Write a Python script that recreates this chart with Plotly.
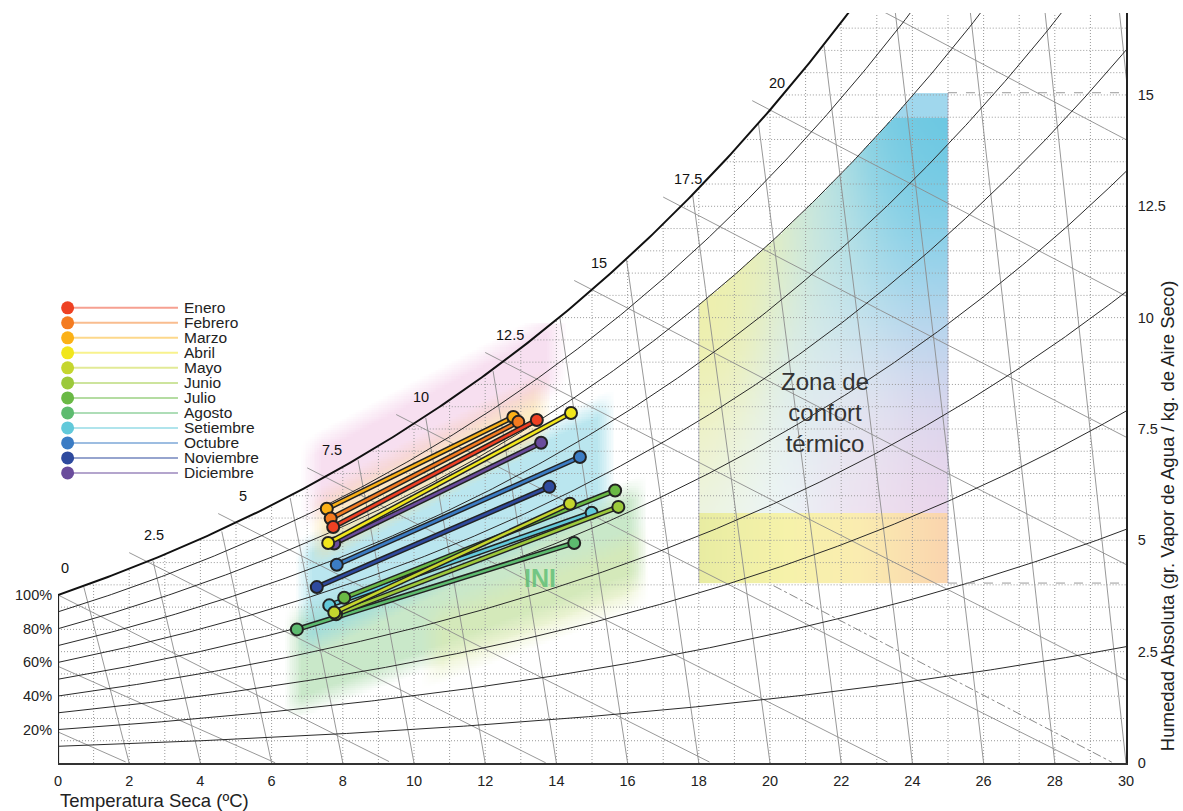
import numpy as np
import plotly.graph_objects as go

# ---------------- data ----------------
months = ["Enero", "Febrero", "Marzo", "Abril", "Mayo", "Junio", "Julio",
          "Agosto", "Setiembre", "Octubre", "Noviembre", "Diciembre"]
month_colors = ["#ee4123", "#f47b20", "#fbb117", "#f1e61c", "#c5d62e", "#9cc93b",
                "#6ab945", "#5dbb6f", "#62c9da", "#3b7cc4", "#2e4a9e", "#6a4c9c"]
t_min = [7.73, 7.66, 7.55, 7.59, 7.76, 7.81, 8.04, 6.71, 7.62, 7.83, 7.27, 7.76]
w_at_tmin = [5.30, 5.49, 5.71, 4.94, 3.38, 3.34, 3.71, 3.00, 3.54, 4.45, 3.95, 4.93]
t_max = [13.45, 12.93, 12.79, 14.41, 14.38, 15.74, 15.65, 14.50, 14.99, 14.66, 13.80, 13.57]
w_at_tmax = [7.70, 7.66, 7.77, 7.86, 5.82, 5.75, 6.12, 4.94, 5.62, 6.87, 6.20, 7.19]

x_tick_vals = list(range(0, 31, 2))
y_tick_vals = [0, 2.5, 5, 7.5, 10, 12.5, 15]
y_tick_text = ["0", "2.5", "5", "7.5", "10", "12.5", "15"]
rh_curves = [0.1, 0.2, 0.3, 0.4, 0.5, 0.6, 0.7, 0.8, 0.9]
rh_labels = [20, 40, 60, 80, 100]
wetbulb_lines = [-5, -2.5, 0, 2.5, 5, 7.5, 10, 12.5, 15, 17.5, 20, 22.5, 25]
wetbulb_labels = [0, 2.5, 5, 7.5, 10, 12.5, 15, 17.5, 20]
steep_line_base = [2, 4, 6, 8, 10, 12, 14, 16, 18, 20, 22, 24, 26, 28, 30, 32]
comfort_t = [18, 25]
comfort_w = [4.04, 15.05]
comfort_band_top = 5.6
comfort_rh = 0.8

X_RANGE = [0, 30]
Y_RANGE = [0, 16.84]
FONT = "Liberation Sans, Arial, sans-serif"
P_ATM = 101.325


# ---------------- psychrometric helpers (chart construction) ----------------
def p_ws(T):
    T = np.asarray(T, dtype=float)
    water = 0.61094 * np.exp(17.625 * T / (T + 243.04))
    ice = 0.61115 * np.exp(22.452 * T / (272.55 + T))
    return np.where(T >= 0, water, ice)


def w_rh(rh, T):
    pw = rh * p_ws(T)
    return 622.0 * pw / (P_ATM - pw)


def t_dew(W):
    pw = W * P_ATM / (622.0 + W)
    a = np.log(pw / 0.61094)
    return 243.04 * a / (17.625 - a)


def w_wetbulb(t, twb):
    ws = float(w_rh(1.0, twb)) / 1000.0
    if twb >= 0:
        w = ((2501 - 2.326 * twb) * ws - 1.006 * (t - twb)) / (2501 + 1.86 * t - 4.186 * twb)
    else:
        w = ((2830 - 0.24 * twb) * ws - 1.006 * (t - twb)) / (2830 + 1.86 * t - 2.1 * twb)
    return 1000.0 * w


def band(v, lo, hi, e):
    return np.clip((v - lo) / e + 0.5, 0, 1) * np.clip((hi - v) / e + 0.5, 0, 1)


def join(segments):
    xs, ys = [], []
    for sx, sy in segments:
        xs += list(sx) + [None]
        ys += list(sy) + [None]
    return xs, ys


fig = go.Figure()

# ---------------- comfort zone gradient ----------------
d = 0.04
cT = np.arange(comfort_t[0] + d / 2, comfort_t[1], d)
cW = np.arange(comfort_w[0] + d / 2, comfort_w[1], d)
TT, WW = np.meshgrid(cT, cW)
anchors = [
    (18.0, 10.0, (238, 238, 166)), (18.0, 8.0, (238, 240, 176)),
    (18.3, 6.2, (236, 244, 236)), (20.0, 6.3, (236, 246, 250)),
    (19.5, 11.5, (236, 240, 180)), (21.0, 9.0, (214, 236, 236)),
    (21.5, 12.5, (205, 232, 222)), (22.5, 11.0, (180, 224, 236)),
    (24.3, 13.7, (96, 196, 224)), (23.5, 13.2, (125, 205, 228)),
    (24.5, 11.0, (150, 212, 236)), (24.5, 8.8, (212, 212, 238)),
    (24.4, 6.3, (236, 212, 234)), (22.5, 6.2, (242, 226, 240)),
    (22.5, 8.0, (228, 232, 242)),
]
num = np.zeros(TT.shape + (3,))
den = np.zeros(TT.shape)
for at, aw, col in anchors:
    dist2 = (TT - at) ** 2 + (0.7 * (WW - aw)) ** 2
    wgt = np.exp(-dist2 / (2 * 1.1 ** 2)) + 1e-9
    num += wgt[..., None] * np.array(col, dtype=float)
    den += wgt
upper = num / den[..., None]
band_T = [18, 20.5, 22.5, 25]
band_cols = np.array([(232, 236, 162), (246, 242, 170), (250, 236, 176), (250, 212, 174)], dtype=float)
lower = np.stack([np.interp(TT, band_T, band_cols[:, k]) for k in range(3)], axis=-1)
rgb = np.where((WW < comfort_band_top)[..., None], lower, upper)
rgb = np.where((WW > 14.5)[..., None], np.array([160, 215, 237], dtype=float), rgb)
alpha = (WW <= w_rh(comfort_rh, TT)).astype(float)
img = np.concatenate([np.round(rgb), alpha[..., None]], axis=-1)
fig.add_trace(go.Image(z=img.tolist(), colormodel="rgba", x0=cT[0], dx=d, y0=cW[0], dy=d,
                       hoverinfo="skip"))

# ---------------- soft coloured areas behind the monthly lines ----------------
d2 = 0.05
bT = np.arange(6.2, 16.9, d2)
bW = np.arange(1.1, 9.9, d2)
TT, WW = np.meshgrid(bT, bW)
layers = [
    ((165, 216, 165), 0.60, band(WW - 0.30 * (TT - 7), 1.3, 3.4, 0.5) * band(TT, 6.6, 16.3, 0.5)),
    ((222, 234, 172), 0.50, band(WW - 0.30 * (TT - 7), 0.9, 2.3, 0.5) * band(TT, 10.5, 16.3, 0.6)),
    ((140, 214, 228), 0.60, band(WW - 0.38 * (TT - 7), 2.6, 4.9, 0.5) * band(TT, 6.9, 15.4, 0.5)),
    ((250, 220, 150), 0.55, band(WW - 0.42 * (TT - 7.3), 4.6, 6.0, 0.4) * band(TT, 7.3, 13.6, 0.5)),
    ((240, 192, 226), 0.50, band(WW - 0.42 * (TT - 7.3), 5.6, 7.2, 0.5) * band(TT, 7.1, 14.0, 0.6)),
]
prem = np.zeros(TT.shape + (3,))
A = np.zeros(TT.shape)
for col, a0, mask in layers:
    a = a0 * mask
    prem = np.array(col, dtype=float) * a[..., None] + prem * (1 - a[..., None])
    A = a + A * (1 - a)
rgb2 = np.where(A[..., None] > 1e-6, prem / np.maximum(A, 1e-6)[..., None], 255.0)
img2 = np.concatenate([np.round(rgb2), np.round(A, 3)[..., None]], axis=-1)
fig.add_trace(go.Image(z=img2.tolist(), colormodel="rgba", x0=bT[0], dx=d2, y0=bW[0], dy=d2,
                       hoverinfo="skip"))

# ---------------- dotted grid, clipped to the saturation curve ----------------
grid_line = dict(color="#999999", width=1, dash="1px,2px")
segs = []
for t in range(1, 30):
    segs.append(([t, t], [0, min(float(w_rh(1.0, t)), Y_RANGE[1])]))
gx, gy = join(segs)
fig.add_trace(go.Scatter(x=gx, y=gy, mode="lines", hoverinfo="skip", line=grid_line))
segs = []
for w in np.arange(0.5, Y_RANGE[1], 0.5):
    segs.append(([max(0.0, float(t_dew(w))), 30], [w, w]))
gx, gy = join(segs)
fig.add_trace(go.Scatter(x=gx, y=gy, mode="lines", hoverinfo="skip", line=grid_line))

# ---------------- steep auxiliary lines ----------------
segs = []
wv = np.arange(0, 18, 0.05)
for t0 in steep_line_base:
    s = 3.1 + 0.154 * (t0 - 2)
    tv = t0 - wv / s
    keep = wv <= w_rh(1.0, tv)
    segs.append((tv[keep], wv[keep]))
gx, gy = join(segs)
fig.add_trace(go.Scatter(x=gx, y=gy, mode="lines", hoverinfo="skip",
                         line=dict(color="#8c8c8c", width=0.9)))

# ---------------- wet-bulb lines ----------------
segs = []
for twb in wetbulb_lines:
    tv = np.arange(max(0.0, twb - 0.5), 30.05, 0.1)
    wv2 = np.array([w_wetbulb(t, twb) for t in tv])
    keep = wv2 >= 0
    segs.append((tv[keep], wv2[keep]))
gx, gy = join(segs)
fig.add_trace(go.Scatter(x=gx, y=gy, mode="lines", hoverinfo="skip",
                         line=dict(color="#8c8c8c", width=0.9)))

# ---------------- relative humidity curves ----------------
tt = np.arange(0, 30.01, 0.1)
segs = [(tt, w_rh(rh, tt)) for rh in rh_curves]
gx, gy = join(segs)
fig.add_trace(go.Scatter(x=gx, y=gy, mode="lines", hoverinfo="skip",
                         line=dict(color="#2a2a2a", width=1)))
fig.add_trace(go.Scatter(x=tt, y=w_rh(1.0, tt), mode="lines", hoverinfo="skip",
                         line=dict(color="#111111", width=2)))
fig.add_trace(go.Scatter(x=[0, 0], y=[0, float(w_rh(1.0, 0))], mode="lines", hoverinfo="skip",
                         line=dict(color="#222222", width=2.2)))

# ---------------- comfort zone edges / dashed references ----------------
fig.add_trace(go.Scatter(x=[comfort_t[1], 30, None, comfort_t[1], 30],
                         y=[comfort_w[1], comfort_w[1], None, comfort_w[0], comfort_w[0]],
                         mode="lines", hoverinfo="skip",
                         line=dict(color="#9a9a9a", width=1, dash="dash")))
fig.add_trace(go.Scatter(x=[20.1, 29.6], y=[3.98, 0.02], mode="lines", hoverinfo="skip",
                         line=dict(color="#8a8a8a", width=1, dash="dashdot")))
fig.add_trace(go.Scatter(x=[comfort_t[0], comfort_t[0], None, comfort_t[1], comfort_t[1]],
                         y=[comfort_w[0], float(w_rh(comfort_rh, comfort_t[0])), None,
                            comfort_w[0], comfort_w[1]],
                         mode="lines", hoverinfo="skip",
                         line=dict(color="rgba(130,130,170,0.45)", width=1)))

# ---------------- monthly lines ----------------
for i in reversed(range(len(months))):
    xs = [t_min[i], t_max[i]]
    ys = [w_at_tmin[i], w_at_tmax[i]]
    fig.add_trace(go.Scatter(x=xs, y=ys, mode="lines", hoverinfo="skip",
                             line=dict(color="#222222", width=5.5)))
    fig.add_trace(go.Scatter(x=xs, y=ys, mode="lines", name=months[i],
                             line=dict(color=month_colors[i], width=2.6)))
    fig.add_trace(go.Scatter(x=xs, y=ys, mode="markers", name=months[i],
                             marker=dict(color=month_colors[i], size=12,
                                         line=dict(color="#222222", width=2))))


# ---------------- custom legend ----------------
def pastel(hexcol, f=0.5):
    h = hexcol.lstrip("#")
    r, g, b = int(h[0:2], 16), int(h[2:4], 16), int(h[4:6], 16)
    return "rgb(%d,%d,%d)" % (r + (255 - r) * f, g + (255 - g) * f, b + (255 - b) * f)


leg_x0, leg_x1, leg_top, leg_step = 0.27, 3.37, 10.22, 0.337
annotations = []
for i, m in enumerate(months):
    yv = leg_top - leg_step * i
    fig.add_trace(go.Scatter(x=[leg_x0, leg_x1], y=[yv, yv], mode="lines", hoverinfo="skip",
                             line=dict(color=pastel(month_colors[i]), width=2)))
    fig.add_trace(go.Scatter(x=[leg_x0], y=[yv], mode="markers", hoverinfo="skip",
                             marker=dict(color=month_colors[i], size=13)))
    annotations.append(dict(x=leg_x1 + 0.12, y=yv, text=m, showarrow=False, xanchor="left",
                            yanchor="middle", font=dict(family=FONT, size=15.5, color="#222")))

# RH labels on the left
for rh in rh_labels:
    annotations.append(dict(x=0, y=float(w_rh(rh / 100.0, 0)), text="%d%%" % rh, showarrow=False,
                            xanchor="right", yanchor="middle", xshift=-4,
                            font=dict(family=FONT, size=14.5, color="#222")))
# wet-bulb labels along saturation curve
for twb in wetbulb_labels:
    annotations.append(dict(x=twb, y=float(w_rh(1.0, twb)), text=("%g" % twb), showarrow=False,
                            xanchor="center", yanchor="middle", xshift=7, yshift=27,
                            font=dict(family=FONT, size=14.5, color="#111")))

annotations.append(dict(x=21.54, y=7.88, text="Zona de<br>confort<br>térmico", showarrow=False,
                        xanchor="center", yanchor="middle",
                        font=dict(family=FONT, size=24, color="#333")))
annotations.append(dict(x=13.55, y=4.15, text="<b>INI</b>", showarrow=False,
                        xanchor="center", yanchor="middle",
                        font=dict(family=FONT, size=25, color="rgba(98,192,120,0.85)")))
annotations.append(dict(x=0, y=-0.05, xref="paper", yref="paper", text="Temperatura Seca (ºC)",
                        showarrow=False, xanchor="left", yanchor="middle",
                        font=dict(family=FONT, size=18.5, color="#222")))
annotations.append(dict(x=1.039, y=0.33, xref="paper", yref="paper",
                        text="Humedad Absoluta (gr. Vapor de Agua / kg. de Aire Seco)",
                        showarrow=False, textangle=-90, xanchor="center", yanchor="middle",
                        font=dict(family=FONT, size=18.5, color="#222")))

fig.update_layout(
    width=1183, height=811,
    margin=dict(l=58, r=57, t=13, b=48),
    paper_bgcolor="white", plot_bgcolor="white",
    showlegend=False,
    annotations=annotations,
    xaxis=dict(range=X_RANGE, autorange=False, showgrid=False, zeroline=False,
               showline=True, linecolor="#333", linewidth=2,
               tickmode="array", tickvals=x_tick_vals, ticks="",
               ticklabelstandoff=4,
               tickfont=dict(family=FONT, size=14.5, color="#222"),
               scaleanchor=False),
    yaxis=dict(range=Y_RANGE, autorange=False, side="right", showgrid=False, zeroline=False,
               showline=True, linecolor="#222", linewidth=1.5,
               tickmode="array", tickvals=y_tick_vals, ticktext=y_tick_text, ticks="",
               ticklabelstandoff=7,
               tickfont=dict(family=FONT, size=14.5, color="#222"),
               scaleanchor=False),
)

fig.write_html("out.html", config={"displayModeBar": False},
               post_script="document.body.style.margin='0';")
